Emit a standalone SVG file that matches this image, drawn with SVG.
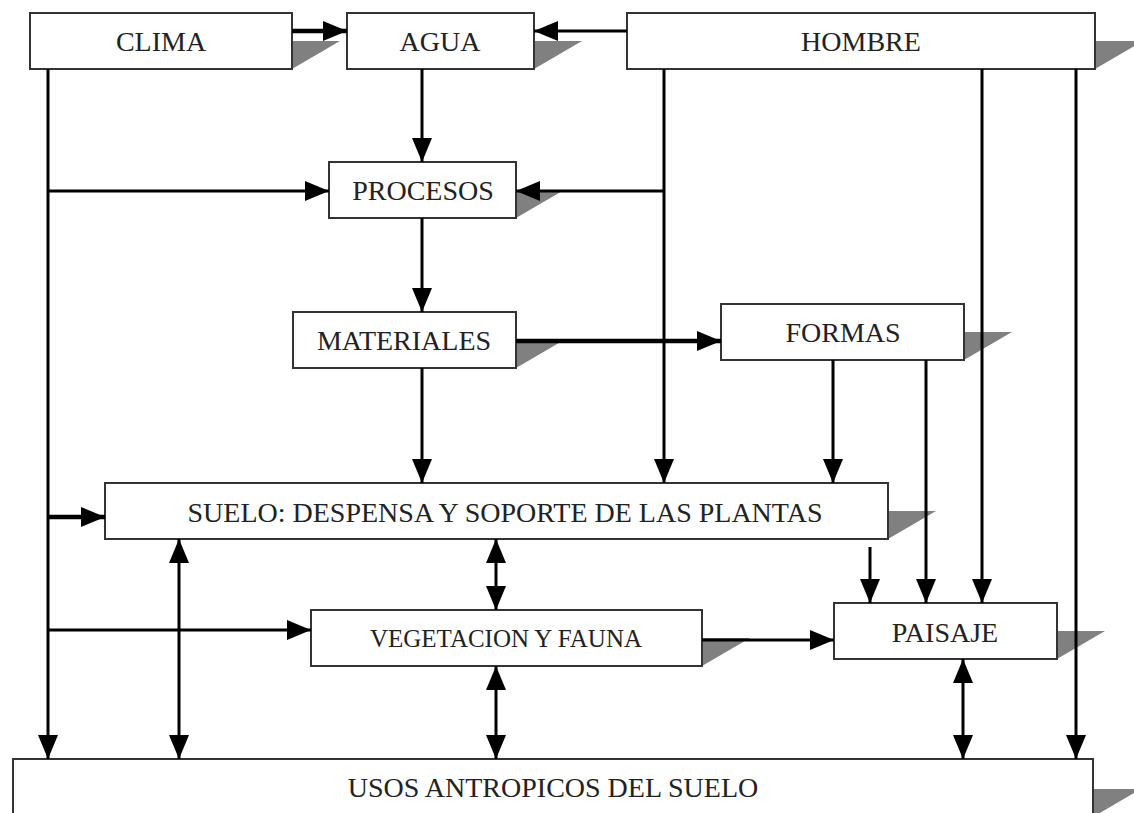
<svg xmlns="http://www.w3.org/2000/svg" width="1134" height="813" viewBox="0 0 1134 813">
<defs>
<style>
.box{fill:#fff;stroke:#333;stroke-width:2}
.sh{fill:#808080}
.t{font-family:"Liberation Serif","Times New Roman",serif;font-size:28px;fill:#222;text-anchor:middle}
.c{fill:none;stroke:#000;stroke-width:3}
.k{stroke-width:4.5}
.a{marker-end:url(#ah)}
.d{marker-start:url(#ah);marker-end:url(#ah)}
</style>
<marker id="ah" viewBox="0 0 24 20" refX="24" refY="10" markerWidth="24" markerHeight="20" markerUnits="userSpaceOnUse" orient="auto-start-reverse">
<path d="M0,0 L24,10 L0,20 z" fill="#000"/>
</marker>
</defs>
<rect width="1134" height="813" fill="#fff"/>

<g id="clima">
<path class="sh" d="M292,41 L340,41 L292,69 z"/>
<rect class="box" x="30" y="13" width="262" height="56"/>
<text class="t" x="161" y="51">CLIMA</text>
</g>
<g id="agua">
<path class="sh" d="M534,41 L582,41 L534,69 z"/>
<rect class="box" x="347" y="13" width="187" height="56"/>
<text class="t" x="440" y="51">AGUA</text>
</g>
<g id="hombre">
<path class="sh" d="M1095,41 L1143,41 L1095,69 z"/>
<rect class="box" x="627" y="13" width="468" height="56"/>
<text class="t" x="861" y="51">HOMBRE</text>
</g>
<g id="procesos">
<path class="sh" d="M516,190 L564,190 L516,218 z"/>
<rect class="box" x="329" y="162" width="187" height="56"/>
<text class="t" x="423" y="200">PROCESOS</text>
</g>
<g id="materiales">
<path class="sh" d="M516,340 L564,340 L516,368 z"/>
<rect class="box" x="293" y="312" width="223" height="56"/>
<text class="t" x="404" y="350">MATERIALES</text>
</g>
<g id="formas">
<path class="sh" d="M964,332 L1012,332 L964,360 z"/>
<rect class="box" x="721" y="304" width="243" height="56"/>
<text class="t" x="843" y="342">FORMAS</text>
</g>
<g id="suelo">
<path class="sh" d="M888,511 L936,511 L888,539 z"/>
<rect class="box" x="105" y="483" width="783" height="56"/>
<text class="t" x="505" y="522">SUELO: DESPENSA Y SOPORTE DE LAS PLANTAS</text>
</g>
<g id="vegetacion">
<path class="sh" d="M702,638 L750,638 L702,666 z"/>
<rect class="box" x="311" y="610" width="391" height="56"/>
<text class="t" x="506" y="647" style="font-size:25px">VEGETACION Y FAUNA</text>
</g>
<g id="paisaje">
<path class="sh" d="M1057,631 L1105,631 L1057,659 z"/>
<rect class="box" x="834" y="603" width="223" height="56"/>
<text class="t" x="945" y="642">PAISAJE</text>
</g>
<g id="usos">
<path class="sh" d="M1093,789 L1141,789 L1093,817 z"/>
<rect class="box" x="13" y="759" width="1080" height="70"/>
<text class="t" x="553" y="797">USOS ANTROPICOS DEL SUELO</text>
</g>

<g id="connectors">
<line class="c k a" x1="292" y1="31" x2="347" y2="31"/>
<line class="c a" x1="627" y1="31" x2="534" y2="31"/>
<line class="c a" x1="422" y1="69" x2="422" y2="162"/>
<line class="c a" x1="48" y1="69" x2="48" y2="759"/>
<line class="c a" x1="48" y1="191" x2="329" y2="191"/>
<line class="c a" x1="664" y1="69" x2="664" y2="483"/>
<line class="c a" x1="664" y1="191" x2="516" y2="191"/>
<line class="c a" x1="422" y1="218" x2="422" y2="312"/>
<line class="c k a" x1="516" y1="341" x2="721" y2="341"/>
<line class="c a" x1="422" y1="368" x2="422" y2="483"/>
<line class="c a" x1="833" y1="360" x2="833" y2="483"/>
<line class="c a" x1="926" y1="360" x2="926" y2="603"/>
<line class="c a" x1="982" y1="69" x2="982" y2="603"/>
<line class="c a" x1="1076" y1="69" x2="1076" y2="759"/>
<line class="c a" x1="870" y1="547" x2="870" y2="603"/>
<line class="c k a" x1="48" y1="517" x2="105" y2="517"/>
<line class="c a" x1="48" y1="630" x2="311" y2="630"/>
<line class="c d" x1="179" y1="539" x2="179" y2="759"/>
<line class="c d" x1="496" y1="539" x2="496" y2="610"/>
<line class="c d" x1="496" y1="666" x2="496" y2="759"/>
<line class="c a" x1="702" y1="640" x2="834" y2="640"/>
<line class="c d" x1="963" y1="659" x2="963" y2="759"/>
</g>
</svg>
